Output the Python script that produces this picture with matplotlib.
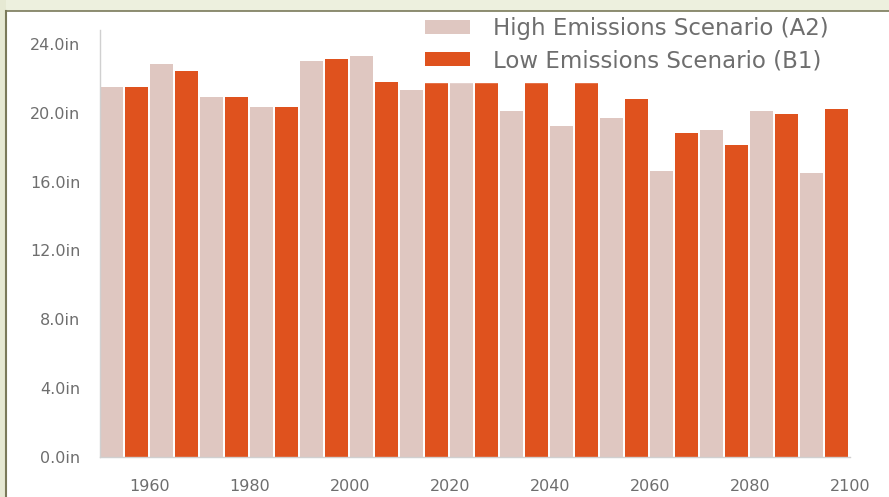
"""
Precipitation projection bars: high vs low emissions scenario, by decade.
"""

import matplotlib
matplotlib.use("Agg")
import matplotlib.pyplot as plt
import matplotlib.patches as patches

# decade start years (each group: high bar, then low bar 5 yrs later)
decades = [1950, 1960, 1970, 1980, 1990, 2000, 2010, 2020,
           2030, 2040, 2050, 2060, 2070, 2080, 2090]
high_a2 = [21.5, 22.8, 20.9, 20.3, 23.0, 23.3, 21.3, 22.0,
           20.1, 19.2, 19.7, 16.6, 19.0, 20.1, 16.5]
low_b1 = [21.5, 22.4, 20.9, 20.3, 23.1, 21.8, 21.8, 22.6,
          22.8, 22.0, 20.8, 18.8, 18.1, 19.9, 20.2]
series_names = ["High Emissions Scenario (A2)", "Low Emissions Scenario (B1)"]
yticks = [0, 4, 8, 12, 16, 20, 24]
xticks = [1960, 1980, 2000, 2020, 2040, 2060, 2080, 2100]

LIGHT = "#dfc7c1"
DARK = "#df521e"
GREY = "#6e6e6e"

fig = plt.figure(figsize=(8.89, 4.97), dpi=100)
fig.patch.set_facecolor("white")
ax = fig.add_axes([100 / 889, 40 / 497, 750 / 889, 427 / 497])

ax.bar(decades, high_a2, width=4.6, align="edge", color=LIGHT, label=series_names[0])
ax.bar([d + 5 for d in decades], low_b1, width=4.6, align="edge", color=DARK,
       label=series_names[1])

ax.set_xlim(1950, 2100)
ax.set_ylim(0, 24.8)
ax.set_yticks(yticks)
ax.set_yticklabels([f"{v:.1f}in" for v in yticks])
ax.set_xticks(xticks)
ax.tick_params(length=0, colors=GREY, labelsize=11.5)
ax.tick_params(axis="y", pad=14)
ax.tick_params(axis="x", pad=16)
for s in ["top", "right"]:
    ax.spines[s].set_visible(False)
for s in ["left", "bottom"]:
    ax.spines[s].set_color("#d0d0d0")
    ax.spines[s].set_linewidth(1.0)

leg = ax.legend(loc="upper left", bbox_to_anchor=(416 / 889, 1 - 8 / 497),
                bbox_transform=fig.transFigure, fontsize=16.5, frameon=True,
                facecolor="white", edgecolor="white", framealpha=1.0,
                handlelength=1.95, handleheight=0.57, handletextpad=1.0,
                labelspacing=0.4, borderpad=0.4, borderaxespad=0)
for t in leg.get_texts():
    t.set_color(GREY)

# slide frame around the chart (green strip at top and left)
fig.patches.append(patches.Rectangle((0, 1 - 11 / 497), 1, 11 / 497,
                                     transform=fig.transFigure, facecolor="#edf0de",
                                     edgecolor="none", zorder=5))
fig.patches.append(patches.Rectangle((0, 0), 6 / 889, 1, transform=fig.transFigure,
                                     facecolor="#e6e9d3", edgecolor="none", zorder=5))
fig.lines.append(plt.Line2D([6 / 889, 1], [1 - 11 / 497, 1 - 11 / 497],
                            transform=fig.transFigure, color="#7a7a5a", lw=1.2, zorder=6))
fig.lines.append(plt.Line2D([6 / 889, 6 / 889], [0, 1 - 11 / 497],
                            transform=fig.transFigure, color="#7a7a5a", lw=1.5, zorder=6))

fig.savefig("out.png", dpi=100)
